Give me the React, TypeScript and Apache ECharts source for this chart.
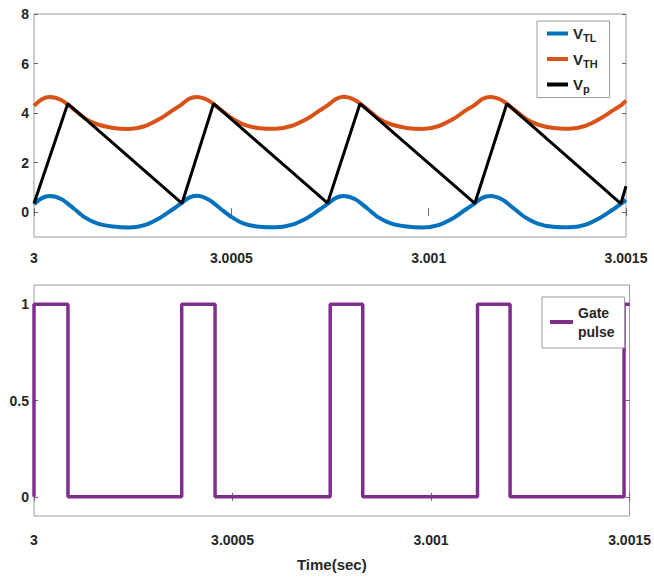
import React, { useEffect, useRef } from 'react';
import * as echarts from 'echarts';

// ---- data ----
const curveTime = [
  3, 3.00002, 3.00004, 3.00007, 3.0001, 3.00013, 3.00016, 3.0002, 3.00024, 3.00028, 3.00032, 3.00035,
  3.000372, 3.000392, 3.000412, 3.000442, 3.000472, 3.000502, 3.000532, 3.000572, 3.000612, 3.000652, 3.000692, 3.000722,
  3.000744, 3.000764, 3.000784, 3.000814, 3.000844, 3.000874, 3.000904, 3.000944, 3.000984, 3.001024, 3.001064, 3.001094,
  3.001116, 3.001136, 3.001156, 3.001186, 3.001216, 3.001246, 3.001276, 3.001316, 3.001356, 3.001396, 3.001436, 3.001466,
  3.001488, 3.0015,
];
const vTH = [
  4.30, 4.56, 4.65, 4.52, 4.16, 3.78, 3.55, 3.40, 3.36, 3.47, 3.78, 4.10,
  4.32, 4.57, 4.65, 4.51, 4.15, 3.79, 3.54, 3.39, 3.37, 3.48, 3.77, 4.09,
  4.31, 4.56, 4.66, 4.52, 4.16, 3.78, 3.55, 3.40, 3.36, 3.47, 3.78, 4.11,
  4.32, 4.57, 4.65, 4.51, 4.15, 3.78, 3.54, 3.40, 3.37, 3.48, 3.79, 4.10,
  4.32, 4.50,
];
const vTL = [
  0.33, 0.57, 0.65, 0.52, 0.16, -0.22, -0.45, -0.58, -0.62, -0.52, -0.22, 0.10,
  0.35, 0.58, 0.66, 0.51, 0.15, -0.21, -0.46, -0.59, -0.61, -0.51, -0.23, 0.09,
  0.34, 0.57, 0.65, 0.52, 0.16, -0.22, -0.45, -0.58, -0.62, -0.52, -0.22, 0.11,
  0.35, 0.58, 0.65, 0.51, 0.15, -0.22, -0.46, -0.59, -0.61, -0.51, -0.21, 0.10,
  0.35, 0.50,
];
const vpTime = [3, 3.0000855, 3.000375, 3.000455, 3.000744, 3.000826, 3.001117, 3.001198, 3.001487, 3.0015];
const vp = [0.35, 4.38, 0.36, 4.38, 0.37, 4.38, 0.36, 4.38, 0.35, 1.05];
const gateRise = [3, 3.000372, 3.000746, 3.001117, 3.001486];
const gateFall = [3.0000855, 3.000456, 3.000828, 3.001199];
const timeTicks = [3, 3.0005, 3.001, 3.0015];
const voltTicks = [0, 2, 4, 6, 8];
const gateTicks = [0, 0.5, 1];

const FONT = "'Liberation Sans Narrow', 'Liberation Sans', Arial, sans-serif";
const TXT = '#262626';
const BORDER = '#9a9a9a';

function gateSeries(): [number, number][] {
  const pts: [number, number][] = [];
  gateRise.forEach((r, i) => {
    pts.push([r, 0], [r, 1]);
    if (i < gateFall.length) pts.push([gateFall[i], 1], [gateFall[i], 0]);
  });
  pts.push([3.0015, 1]);
  return pts;
}

const legendNames: Record<string, string> = {
  VTL: '{v|V}{s|TL}',
  VTH: '{v|V}{s|TH}',
  Vp: '{v|V}{s|p}',
};

export default function App() {
  const ref = useRef<HTMLDivElement>(null);
  useEffect(() => {
    if (!ref.current) return;
    const chart = echarts.init(ref.current, undefined, { renderer: 'svg' });
    const labelStyle = { color: TXT, fontFamily: FONT, fontSize: 14, fontWeight: 'bold' as const };
    const tick = { inside: true, length: 4, lineStyle: { color: '#666' } };
    const xBase = (grid: number, pos: 'top' | 'bottom', show: boolean, margin: number) => ({
      type: 'value',
      gridIndex: grid,
      position: pos,
      min: 3,
      max: 3.0015,
      axisLine: { show: false },
      splitLine: { show: false },
      axisTick: { ...tick, customValues: timeTicks },
      axisLabel: {
        show,
        ...labelStyle,
        margin,
        customValues: timeTicks,
        formatter: (v: number) => String(Number(v.toFixed(4))),
      },
    });
    const yBase = (grid: number, pos: 'left' | 'right', show: boolean, min: number, max: number, ticks: number[]) => ({
      type: 'value',
      gridIndex: grid,
      position: pos,
      min,
      max,
      axisLine: { show: false },
      splitLine: { show: false },
      axisTick: { ...tick, customValues: ticks },
      axisLabel: { show, ...labelStyle, margin: 5, customValues: ticks },
    });
    chart.setOption({
      animation: false,
      backgroundColor: '#fff',
      grid: [
        { left: 34, right: 28, top: 14, height: 223, show: true, borderColor: BORDER, borderWidth: 1, backgroundColor: 'transparent' },
        { left: 34, right: 20, top: 285, height: 231, show: true, borderColor: BORDER, borderWidth: 1, backgroundColor: 'transparent' },
      ],
      xAxis: [
        xBase(0, 'bottom', true, 14),
        xBase(0, 'top', false, 8),
        {
          ...xBase(1, 'bottom', true, 17),
          name: 'Time(sec)',
          nameLocation: 'middle',
          nameGap: 41,
          nameTextStyle: { color: TXT, fontFamily: FONT, fontSize: 15, fontWeight: 'bold' },
        },
        xBase(1, 'top', false, 8),
      ],
      yAxis: [
        yBase(0, 'left', true, -1, 8, voltTicks),
        yBase(0, 'right', false, -1, 8, voltTicks),
        yBase(1, 'left', true, -0.1, 1.1, gateTicks),
        yBase(1, 'right', false, -0.1, 1.1, gateTicks),
      ],
      legend: [
        {
          data: ['VTL', 'VTH', 'Vp'],
          orient: 'vertical',
          left: 537,
          top: 21,
          padding: [5, 12, 3, 10],
          itemGap: 8,
          itemWidth: 21,
          itemHeight: 4,
          icon: 'rect',
          borderColor: BORDER,
          borderWidth: 1,
          backgroundColor: '#fff',
          formatter: (n: string) => legendNames[n] || n,
          textStyle: {
            color: TXT,
            rich: {
              v: { fontSize: 15, fontWeight: 'bold', fontFamily: FONT, color: TXT },
              s: { fontSize: 11, fontWeight: 'bold', fontFamily: FONT, color: TXT, padding: [9, 0, 0, 0] },
            },
          },
        },
        {
          data: ['Gate'],
          orient: 'vertical',
          left: 542,
          top: 297,
          padding: [6, 10, 7, 8],
          itemWidth: 23,
          itemHeight: 4,
          icon: 'rect',
          borderColor: BORDER,
          borderWidth: 1,
          backgroundColor: '#fff',
          formatter: () => 'Gate\npulse',
          textStyle: { color: TXT, fontFamily: FONT, fontSize: 14, fontWeight: 'bold', lineHeight: 19 },
        },
      ],
      series: [
        {
          name: 'VTL',
          type: 'line',
          xAxisIndex: 0,
          yAxisIndex: 0,
          data: curveTime.map((t, i) => [t, vTL[i]]),
          showSymbol: false,
          smooth: 0.3,
          itemStyle: { color: '#0072BD' },
          lineStyle: { color: '#0072BD', width: 4 },
        },
        {
          name: 'VTH',
          type: 'line',
          xAxisIndex: 0,
          yAxisIndex: 0,
          data: curveTime.map((t, i) => [t, vTH[i]]),
          showSymbol: false,
          smooth: 0.3,
          itemStyle: { color: '#D95319' },
          lineStyle: { color: '#D95319', width: 4 },
        },
        {
          name: 'Vp',
          type: 'line',
          xAxisIndex: 0,
          yAxisIndex: 0,
          data: vpTime.map((t, i) => [t, vp[i]]),
          showSymbol: false,
          itemStyle: { color: '#000' },
          lineStyle: { color: '#000', width: 3 },
        },
        {
          name: 'Gate',
          type: 'line',
          xAxisIndex: 2,
          yAxisIndex: 2,
          data: gateSeries(),
          showSymbol: false,
          itemStyle: { color: '#7E2F8E' },
          lineStyle: { color: '#7E2F8E', width: 3.5 },
        },
      ],
    });
    return () => chart.dispose();
  }, []);
  return (
    <div
      ref={ref}
      style={{ position: 'fixed', left: 0, top: 0, width: 654, height: 578, background: '#fff' }}
    />
  );
}
